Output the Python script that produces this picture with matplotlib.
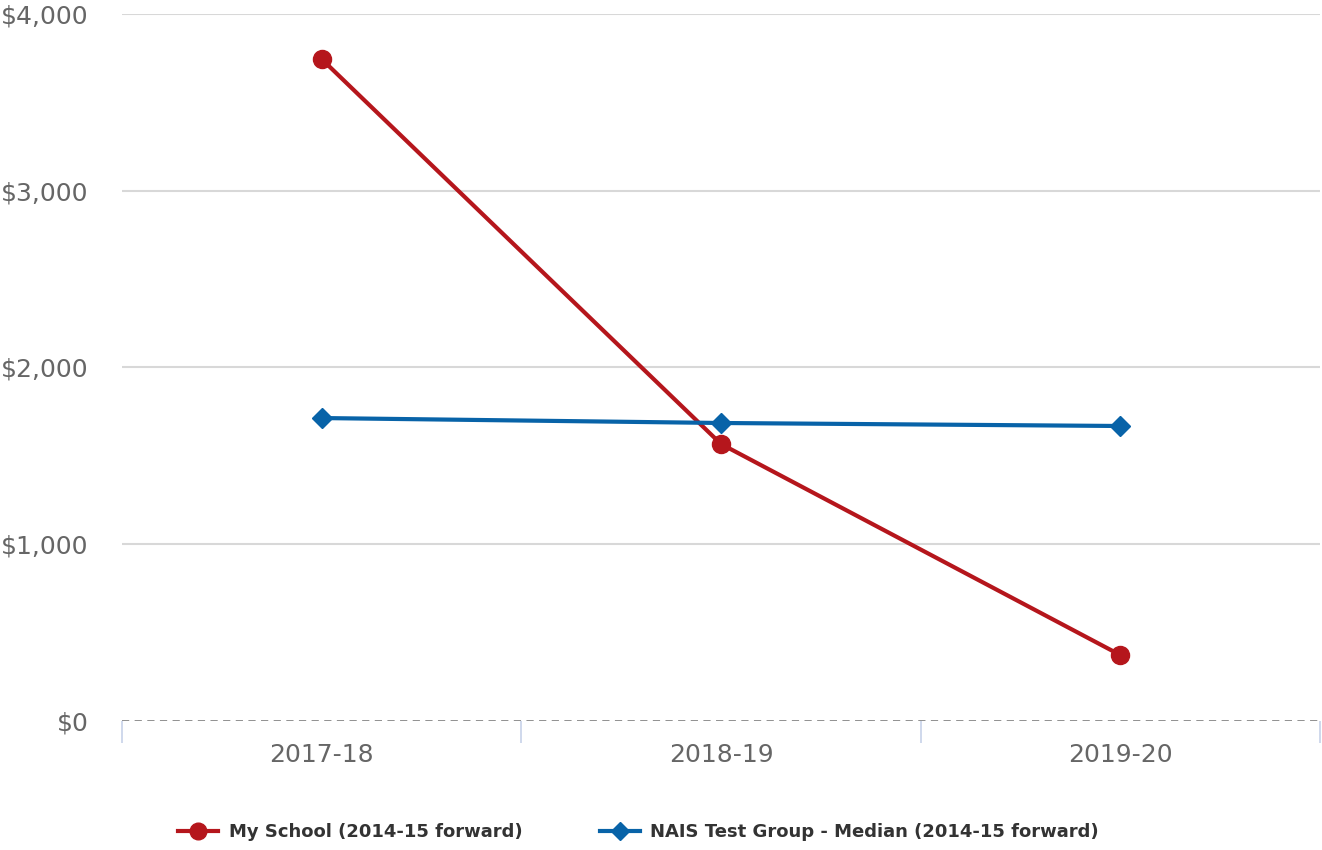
import matplotlib.pyplot as plt
from matplotlib.ticker import FuncFormatter, FixedLocator
from matplotlib.lines import Line2D

years = ["2017-18", "2018-19", "2019-20"]
my_school = [3745, 1567, 373]
nais_median = [1714, 1686, 1669]
y_ticks = [0, 1000, 2000, 3000, 4000]

red = "#b5161c"
blue = "#0863a8"

fig = plt.figure(figsize=(13.22, 8.5), dpi=100)
ax = fig.add_axes([0.0923, 0.1518, 0.9062, 0.8317])

x = list(range(len(years)))
ax.plot(x, my_school, color=red, lw=3, marker="o", ms=13, zorder=3,
        label="My School (2014-15 forward)")
ax.plot(x, nais_median, color=blue, lw=3, marker="D", ms=10, zorder=4,
        label="NAIS Test Group - Median (2014-15 forward)")

ax.set_xlim(-0.5, 2.5)
ax.set_ylim(0, 4000)
ax.set_yticks(y_ticks)
ax.yaxis.set_major_formatter(FuncFormatter(lambda v, p: "${:,.0f}".format(v)))
for t in y_ticks[1:]:
    ax.axhline(t, color="#d8d8d8", lw=1.5, zorder=1)
ax.axhline(0, color="#888888", lw=1.3, ls=(0, (4, 3)), zorder=2)

ax.set_xticks(x)
ax.set_xticklabels(years)
ax.xaxis.set_minor_locator(FixedLocator([-0.5, 0.5, 1.5, 2.5]))
ax.tick_params(axis="x", which="major", length=0, pad=16, labelsize=18, labelcolor="#666666")
ax.tick_params(axis="x", which="minor", length=16, width=1.3, color="#ccd6eb")
ax.tick_params(axis="y", length=0, pad=24, labelsize=18, labelcolor="#666666")
for s in ax.spines.values():
    s.set_visible(False)

handles = [
    Line2D([], [], color=red, lw=3, marker="o", ms=12),
    Line2D([], [], color=blue, lw=3, marker="D", ms=9),
]
fig.legend(handles, ["My School (2014-15 forward)", "NAIS Test Group - Median (2014-15 forward)"],
           loc="center", bbox_to_anchor=(0.483, 0.021), ncol=2, frameon=False,
           prop={"size": 13, "weight": "bold"}, labelcolor="#333333",
           handlelength=2.2, columnspacing=4.3, handletextpad=0.6)

fig.savefig("out.png", dpi=100)
